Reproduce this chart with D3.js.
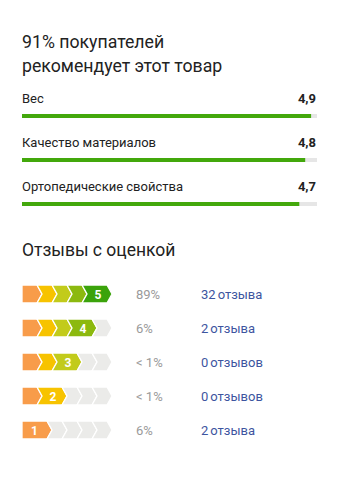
<!DOCTYPE html>
<html><head><meta charset="utf-8">
<script src="https://cdn.jsdelivr.net/npm/d3@7"></script>
<style>body{margin:0;background:#fff}</style>
</head><body>
<script>
const titleLines = ["91% покупателей", "рекомендует этот товар"];
const criteria = ["Вес", "Качество материалов", "Ортопедические свойства"];
const criteriaScores = [4.9, 4.8, 4.7];
const criteriaLabels = ["4,9", "4,8", "4,7"];
const reviewsTitle = "Отзывы с оценкой";
const ratings = [5, 4, 3, 2, 1];
const ratingPct = ["89%", "6%", "< 1%", "< 1%", "6%"];
const ratingCount = ["32", "2", "0", "0", "2"];
const ratingWord = ["отзыва", "отзыва", "отзывов", "отзывов", "отзыва"];
const segColors = ["#f89c4a", "#f7c300", "#c2cb1b", "#8cb90f", "#3ba30b"];

const W = 348, H = 493;
const font = "Roboto, 'Noto Sans', sans-serif";
const svg = d3.select("body").append("svg").attr("width", W).attr("height", H);

svg.selectAll("text.title").data(titleLines).join("text")
  .attr("x", 22).attr("y", (d, i) => 48 + i * 24)
  .attr("font-family", font).attr("font-size", 17.7).attr("fill", "#222").text(d => d);

const xBar = d3.scaleLinear().domain([0, 5]).range([22, 317]);
const rowY = d3.scaleLinear().domain([0, 1]).range([103, 147]);
const g = svg.selectAll("g.crit").data(criteria).join("g")
  .attr("transform", (d, i) => `translate(0,${rowY(i)})`);
g.append("text").attr("x", 22).attr("y", 0).attr("font-family", font).attr("font-size", 13)
  .attr("fill", "#222").text(d => d);
g.append("text").attr("x", 316).attr("y", 0).attr("text-anchor", "end").attr("font-family", font)
  .attr("font-size", 13).attr("font-weight", "bold").attr("fill", "#222").text((d, i) => criteriaLabels[i]);
g.append("rect").attr("x", xBar(0)).attr("y", 11).attr("width", xBar(5) - xBar(0)).attr("height", 4).attr("fill", "#e6e6e6");
g.append("rect").attr("x", xBar(0)).attr("y", 11).attr("width", (d, i) => xBar(criteriaScores[i]) - xBar(0))
  .attr("height", 4).attr("fill", "#43a80c");

svg.append("text").attr("x", 22).attr("y", 256).attr("font-family", font).attr("font-size", 17.5)
  .attr("fill", "#222").text(reviewsTitle);

// chevron units of 5px: first +1, normal 3, numbered +2
const xc = d3.scaleLinear().domain([0, 18]).range([22, 112]);
const ry = d3.scaleLinear().domain([0, 1]).range([285, 319]);
const h = 18, d5 = xc(1) - xc(0);

ratings.forEach((r, ri) => {
  const grp = svg.append("g").attr("transform", `translate(0,${ry(ri)})`);
  let u = 0;
  let prevTip = null;
  for (let k = 0; k < 5; k++) {
    let w = 3 + (k === 0 ? 1 : 0) + (k === r - 1 ? 2 : 0);
    const tip = xc(u + w);
    const L = k === 0 ? xc(0) : prevTip - d5;
    const pts = [[L, 0], [tip - d5, 0], [tip, h / 2], [tip - d5, h], [L, h]];
    if (k > 0) pts.push([L + d5, h / 2]);
    const fill = k < r ? segColors[k] : "#ebebe9";
    grp.append("path").attr("d", "M" + pts.map(p => p.join(",")).join("L") + "Z")
      .attr("fill", fill).attr("stroke", "#fff").attr("stroke-width", 1.3).attr("stroke-linejoin", "miter");
    if (k === r - 1) {
      const cx = k === 0 ? (L + tip - d5) / 2 : (L + d5 + tip - d5) / 2 + 1;
      grp.append("text").attr("x", cx).attr("y", h / 2 + 4.5).attr("text-anchor", "middle")
        .attr("font-family", font).attr("font-size", 12).attr("font-weight", "bold").attr("fill", "#fff").text(r);
    }
    prevTip = tip;
    u += w;
  }
  grp.append("text").attr("x", 136).attr("y", h / 2 + 4.5).attr("font-family", font).attr("font-size", 13)
    .attr("fill", "#9a9a9a").text(ratingPct[ri]);
  const t = grp.append("text").attr("x", 201).attr("y", h / 2 + 4.5).attr("font-family", font)
    .attr("font-size", 13).attr("fill", "#3d55a0");
  t.append("tspan").text(ratingCount[ri]);
  t.append("tspan").attr("dx", 2).text(ratingWord[ri]);
});
</script>
</body></html>
